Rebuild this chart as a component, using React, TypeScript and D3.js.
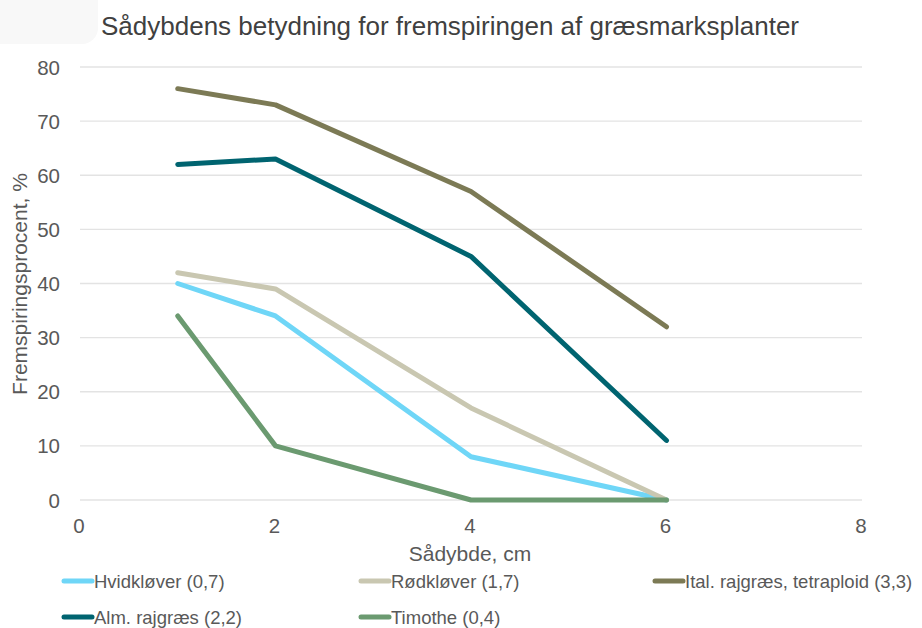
import React, { useRef, useEffect } from "react";
import * as d3 from "d3";

const depths = [1, 2, 4, 6];
const seriesNames = [
  "Hvidkløver (0,7)",
  "Rødkløver (1,7)",
  "Ital. rajgræs, tetraploid (3,3)",
  "Alm. rajgræs (2,2)",
  "Timothe (0,4)",
];
const hvidklover = [40, 34, 8, 0];
const rodklover = [42, 39, 17, 0];
const italRajgraes = [76, 73, 57, 32];
const almRajgraes = [62, 63, 45, 11];
const timothe = [34, 10, 0, 0];
const seriesColors = ["#6fd6f7", "#c9c7b1", "#7c7a55", "#006470", "#6b9a70"];
const xTicks = [0, 2, 4, 6, 8];
const yTicks = [0, 10, 20, 30, 40, 50, 60, 70, 80];

const W = 922;
const H = 628;

function App() {
  const svgRef = useRef<SVGSVGElement>(null);

  useEffect(() => {
    const svg = d3.select(svgRef.current);
    svg.selectAll("*").remove();
    const font = "'Liberation Sans', Arial, sans-serif";

    const x = d3.scaleLinear().domain([0, 8]).range([80, 862]);
    const y = d3.scaleLinear().domain([0, 80]).range([500, 67]);

    svg.append("rect").attr("width", W).attr("height", H).attr("fill", "#fff");
    svg.append("rect").attr("x", -14).attr("y", -14).attr("width", 112).attr("height", 58)
      .attr("rx", 16).attr("fill", "#f8f8f8");

    svg.append("text").attr("x", 450).attr("y", 35).attr("text-anchor", "middle")
      .attr("font-family", font).attr("font-size", 26).attr("fill", "#404040")
      .text("Sådybdens betydning for fremspiringen af græsmarksplanter");

    // gridlines
    svg.append("g").selectAll("line").data(yTicks).join("line")
      .attr("x1", x(0)).attr("x2", x(8))
      .attr("y1", d => y(d)).attr("y2", d => y(d))
      .attr("stroke", "#e3e3e3").attr("stroke-width", 1.3);

    svg.append("g").selectAll("text").data(yTicks).join("text")
      .attr("x", 60).attr("y", d => y(d) + 7.5).attr("text-anchor", "end")
      .attr("font-family", font).attr("font-size", 20.5).attr("fill", "#595959")
      .text(d => d);

    svg.append("g").selectAll("text").data(xTicks).join("text")
      .attr("x", d => x(d) - 1).attr("y", 533).attr("text-anchor", "middle")
      .attr("font-family", font).attr("font-size", 20.5).attr("fill", "#595959")
      .text(d => d);

    svg.append("text").attr("x", 470).attr("y", 561).attr("text-anchor", "middle")
      .attr("font-family", font).attr("font-size", 21).attr("fill", "#595959")
      .text("Sådybde, cm");

    svg.append("text").attr("transform", "translate(27,284) rotate(-90)")
      .attr("text-anchor", "middle")
      .attr("font-family", font).attr("font-size", 21).attr("fill", "#595959")
      .text("Fremspiringsprocent, %");

    const allSeries = [hvidklover, rodklover, italRajgraes, almRajgraes, timothe];
    const line = d3.line<number>().x((_, i) => x(depths[i])).y(d => y(d));

    svg.append("g").selectAll("path").data(allSeries).join("path")
      .attr("d", d => line(d))
      .attr("fill", "none")
      .attr("stroke", (_, i) => seriesColors[i])
      .attr("stroke-width", 5)
      .attr("stroke-linecap", "round")
      .attr("stroke-linejoin", "round");

    // legend
    const legendPos = [
      [62, 581], [359, 581], [653, 581], [62, 617], [359, 617],
    ];
    const lg = svg.append("g").selectAll("g").data(seriesNames).join("g")
      .attr("transform", (_, i) => `translate(${legendPos[i][0]},${legendPos[i][1]})`);
    lg.append("line").attr("x1", 2).attr("x2", 30).attr("y1", 0).attr("y2", 0)
      .attr("stroke", (_, i) => seriesColors[i]).attr("stroke-width", 5)
      .attr("stroke-linecap", "round");
    lg.append("text").attr("x", 32).attr("y", 7)
      .attr("font-family", font).attr("font-size", 18.5).attr("fill", "#595959")
      .text(d => d);
  }, []);

  return (
    <svg ref={svgRef} width={W} height={H} style={{ display: "block", position: "absolute", left: 0, top: 0 }} />
  );
}

export default App;
